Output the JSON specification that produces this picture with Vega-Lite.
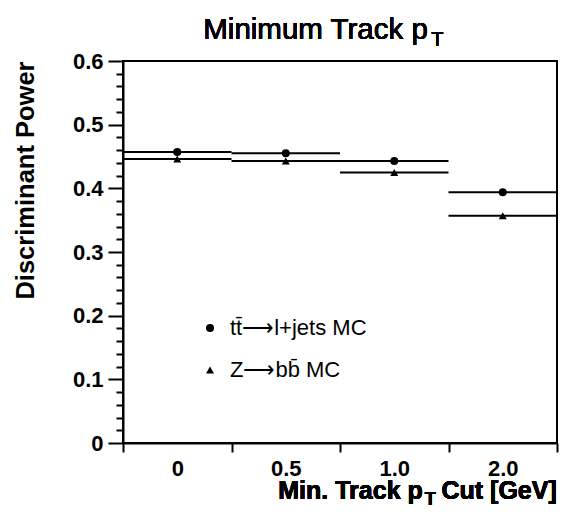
{
  "$schema": "https://vega.github.io/schema/vega-lite/v6.json",
  "width": 434,
  "height": 382,
  "autosize": {"type": "none"},
  "padding": {"left": 123, "top": 61, "right": 6, "bottom": 72},
  "background": "white",
  "config": {
    "font": "Liberation Sans",
    "view": {"stroke": "black", "strokeWidth": 2},
    "axis": {
      "domainColor": "black", "domainWidth": 2,
      "tickColor": "black", "tickWidth": 2,
      "labelColor": "black", "labelFont": "Liberation Sans", "labelFontWeight": "bold", "labelFontSize": 22,
      "grid": false
    }
  },
  "data": {
    "values": [
      {"cut": "0", "sample": "tt̄⟶l+jets MC", "value": 0.457},
      {"cut": "0.5", "sample": "tt̄⟶l+jets MC", "value": 0.455},
      {"cut": "1.0", "sample": "tt̄⟶l+jets MC", "value": 0.443},
      {"cut": "2.0", "sample": "tt̄⟶l+jets MC", "value": 0.394},
      {"cut": "0", "sample": "Z⟶bb̄ MC", "value": 0.446},
      {"cut": "0.5", "sample": "Z⟶bb̄ MC", "value": 0.443},
      {"cut": "1.0", "sample": "Z⟶bb̄ MC", "value": 0.425},
      {"cut": "2.0", "sample": "Z⟶bb̄ MC", "value": 0.357}
    ]
  },
  "encoding": {
    "x": {
      "field": "cut", "type": "ordinal",
      "sort": ["0", "0.5", "1.0", "2.0"],
      "scale": {"domain": ["0", "0.5", "1.0", "2.0"], "paddingInner": 0, "paddingOuter": 0},
      "axis": {"title": null, "tickBand": "extent", "tickSize": 9, "labelPadding": 6, "labelAngle": 0}
    },
    "y": {
      "field": "value", "type": "quantitative",
      "scale": {"domain": [0, 0.6], "nice": false, "zero": true},
      "axis": {
        "title": "Discriminant Power",
        "titleFont": "Liberation Sans", "titleFontWeight": "bold", "titleFontSize": 25.5, "titleColor": "black",
        "titleAnchor": "end", "titlePadding": 34,
        "values": [0, 0.02, 0.04, 0.06, 0.08, 0.1, 0.12, 0.14, 0.16, 0.18, 0.2, 0.22, 0.24, 0.26, 0.28, 0.3, 0.32, 0.34, 0.36, 0.38, 0.4, 0.42, 0.44, 0.46, 0.48, 0.5, 0.52, 0.54, 0.56, 0.58, 0.6],
        "labelExpr": "abs(datum.value*10 - round(datum.value*10)) < 0.001 ? (datum.value == 0 ? '0' : format(datum.value, '.1f')) : ''",
        "tickSize": {"condition": {"test": "abs(datum.value*10 - round(datum.value*10)) < 0.001", "value": 15}, "value": 7},
        "labelPadding": 5
      }
    }
  },
  "layer": [
    {
      "mark": {"type": "rule", "color": "black", "strokeWidth": 2},
      "encoding": {
        "x": {"field": "cut", "type": "ordinal", "bandPosition": 0},
        "x2": {"field": "cut", "bandPosition": 1},
        "detail": {"field": "sample"}
      }
    },
    {
      "mark": {"type": "point", "filled": true, "size": 64, "color": "black", "opacity": 1},
      "encoding": {
        "shape": {
          "field": "sample", "type": "nominal",
          "scale": {"domain": ["tt̄⟶l+jets MC", "Z⟶bb̄ MC"], "range": ["circle", "triangle-up"]},
          "legend": {
            "orient": "none", "legendX": 76, "legendY": 256, "title": null,
            "labelFont": "Liberation Sans", "labelFontSize": 22, "labelColor": "black",
            "symbolSize": 64, "symbolFillColor": "black", "symbolStrokeColor": "black", "symbolStrokeWidth": 0,
            "rowPadding": 20, "labelOffset": 9
          }
        }
      }
    },
    {
      "mark": {"type": "text", "text": "Minimum Track p", "align": "left", "baseline": "alphabetic", "fontSize": 29.5, "fontWeight": 400, "font": "Liberation Sans", "color": "black", "dx": 26},
      "encoding": {"x": {"datum": "0"}, "y": {"datum": 0.6344}}
    },
    {
      "mark": {"type": "text", "text": "T", "align": "left", "baseline": "alphabetic", "fontSize": 20, "fontWeight": 400, "font": "Liberation Sans", "color": "black", "dx": 254, "dy": 7},
      "encoding": {"x": {"datum": "0"}, "y": {"datum": 0.6344}}
    },
    {
      "mark": {"type": "text", "text": "Cut [GeV]", "align": "right", "baseline": "alphabetic", "fontSize": 25, "fontWeight": "bold", "font": "Liberation Sans", "color": "black", "dx": 54},
      "encoding": {"x": {"datum": "2.0"}, "y": {"datum": -0.0873}}
    },
    {
      "mark": {"type": "text", "text": "T", "align": "left", "baseline": "alphabetic", "fontSize": 18, "fontWeight": "bold", "font": "Liberation Sans", "color": "black", "dx": -78, "dy": 6},
      "encoding": {"x": {"datum": "2.0"}, "y": {"datum": -0.0873}}
    },
    {
      "mark": {"type": "text", "text": "Min. Track p", "align": "right", "baseline": "alphabetic", "fontSize": 25, "fontWeight": "bold", "font": "Liberation Sans", "color": "black", "dx": -80},
      "encoding": {"x": {"datum": "2.0"}, "y": {"datum": -0.0873}}
    }
  ]
}
